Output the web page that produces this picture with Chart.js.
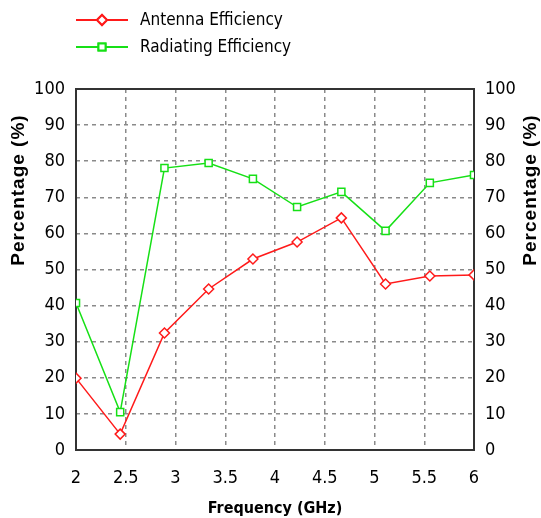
<!DOCTYPE html>
<html lang="en">
<head>
    <meta charset="UTF-8">
    <title>Antenna / Radiating Efficiency</title>
    <script src="https://cdn.jsdelivr.net/npm/chart.js"></script>
    <style>
        body {
            margin: 0;
            background: #ffffff;
        }
        #chart {
            display: block;
        }
    </style>
</head>
<body>
    <canvas id="chart" width="541" height="518"></canvas>

    <script>
        // Values
        const freqGHz = [2, 2.444, 2.889, 3.333, 3.778, 4.222, 4.667, 5.111, 5.556, 6];
        const antennaEff = [19.9, 4.4, 32.4, 44.6, 52.9, 57.6, 64.3, 46.0, 48.2, 48.5];
        const radiatingEff = [40.7, 10.5, 78.1, 79.5, 75.1, 67.3, 71.5, 60.7, 74.0, 76.2];
        const freqTicks = [2, 2.5, 3, 3.5, 4, 4.5, 5, 5.5, 6];
        const pctTicks = [0, 10, 20, 30, 40, 50, 60, 70, 80, 90, 100];

        const narrow = "'Liberation Sans Narrow', 'DejaVu Sans Condensed', sans-serif";
        const yTitle = 'Percentage (%)';

        const toPoints = vals => vals.map((v, i) => ({ x: freqGHz[i], y: v }));

        // frame, y titles and the line+marker legend
        const decor = {
            id: 'decor',
            beforeDatasetsDraw(chart) {
                const { ctx, chartArea: a } = chart;
                ctx.save();
                ctx.strokeStyle = '#333';
                ctx.lineWidth = 2;
                ctx.strokeRect(a.left, a.top, a.right - a.left, a.bottom - a.top);
                ctx.restore();
            },
            afterDraw(chart) {
                const { ctx } = chart;
                ctx.save();
                ctx.fillStyle = '#000';
                ctx.font = "bold 19px 'Liberation Sans', Arial, sans-serif";
                ctx.letterSpacing = '1px';
                ctx.textAlign = 'center';
                ctx.textBaseline = 'middle';
                [19, 531].forEach(x => {
                    ctx.save();
                    ctx.translate(x, 190);
                    ctx.rotate(-Math.PI / 2);
                    ctx.fillText(yTitle, 0, 0);
                    ctx.restore();
                });
                ctx.letterSpacing = '0px';

                // legend
                ctx.font = '17px ' + narrow;
                ctx.textAlign = 'left';
                chart.data.datasets.forEach((ds, i) => {
                    const y = 20 + i * 27;
                    ctx.strokeStyle = ds.borderColor;
                    ctx.lineWidth = 2;
                    ctx.beginPath();
                    ctx.moveTo(76, y);
                    ctx.lineTo(128, y);
                    ctx.stroke();
                    Chart.helpers.drawPoint(ctx, {
                        pointStyle: ds.pointStyle,
                        radius: ds.pointRadius,
                        borderWidth: 1.5,
                        rotation: 0
                    }, 102, y);
                    ctx.fillStyle = '#fff';
                    ctx.fill();
                    ctx.stroke();
                    ctx.fillStyle = '#000';
                    ctx.fillText(ds.label, 140, y + 1);
                });
                ctx.restore();
            }
        };

        const ctx = document.getElementById('chart').getContext('2d');
        new Chart(ctx, {
            type: 'line',
            data: {
                datasets: [
                    {
                        label: 'Antenna Efficiency',
                        data: toPoints(antennaEff),
                        borderColor: '#ff1a1a',
                        backgroundColor: '#ffffff',
                        borderWidth: 1.5,
                        pointStyle: 'rectRot',
                        pointRadius: 5,
                        pointBorderWidth: 1.5,
                        tension: 0
                    },
                    {
                        label: 'Radiating Efficiency',
                        data: toPoints(radiatingEff),
                        borderColor: '#16e016',
                        backgroundColor: '#ffffff',
                        borderWidth: 1.5,
                        pointStyle: 'rect',
                        pointRadius: 5,
                        pointBorderWidth: 1.5,
                        tension: 0
                    }
                ]
            },
            options: {
                responsive: false,
                animation: false,
                layout: { padding: { top: 89 } },
                plugins: {
                    legend: { display: false },
                    tooltip: { enabled: false }
                },
                scales: {
                    x: {
                        type: 'linear',
                        min: 2,
                        max: 6,
                        afterBuildTicks: s => { s.ticks = freqTicks.map(v => ({ value: v })); },
                        afterFit: s => { s.height = 68; },
                        grid: { color: '#8a8a8a', lineWidth: 1.5, drawTicks: false },
                        border: { display: false, dash: [4, 4] },
                        ticks: {
                            color: '#000',
                            padding: 18,
                            callback: v => String(v),
                            font: { family: narrow, size: 18 }
                        },
                        title: {
                            display: true,
                            text: 'Frequency (GHz)',
                            color: '#000',
                            padding: { top: 0, bottom: 0 },
                            font: { family: narrow, size: 16, weight: 'bold' }
                        }
                    },
                    y: {
                        position: 'left',
                        min: 0,
                        max: 100,
                        afterBuildTicks: s => { s.ticks = pctTicks.map(v => ({ value: v })); },
                        afterFit: s => { s.width = 76; },
                        grid: { color: '#8a8a8a', lineWidth: 1.5, drawTicks: false },
                        border: { display: false, dash: [4, 4] },
                        ticks: {
                            color: '#000',
                            padding: 11,
                            font: { family: narrow, size: 18 }
                        }
                    },
                    y2: {
                        position: 'right',
                        min: 0,
                        max: 100,
                        afterBuildTicks: s => { s.ticks = pctTicks.map(v => ({ value: v })); },
                        afterFit: s => { s.width = 67; },
                        grid: { display: false, drawTicks: false },
                        border: { display: false },
                        ticks: {
                            color: '#000',
                            padding: 11,
                            font: { family: narrow, size: 18 }
                        }
                    }
                }
            },
            plugins: [decor]
        });
    </script>
</body>
</html>
